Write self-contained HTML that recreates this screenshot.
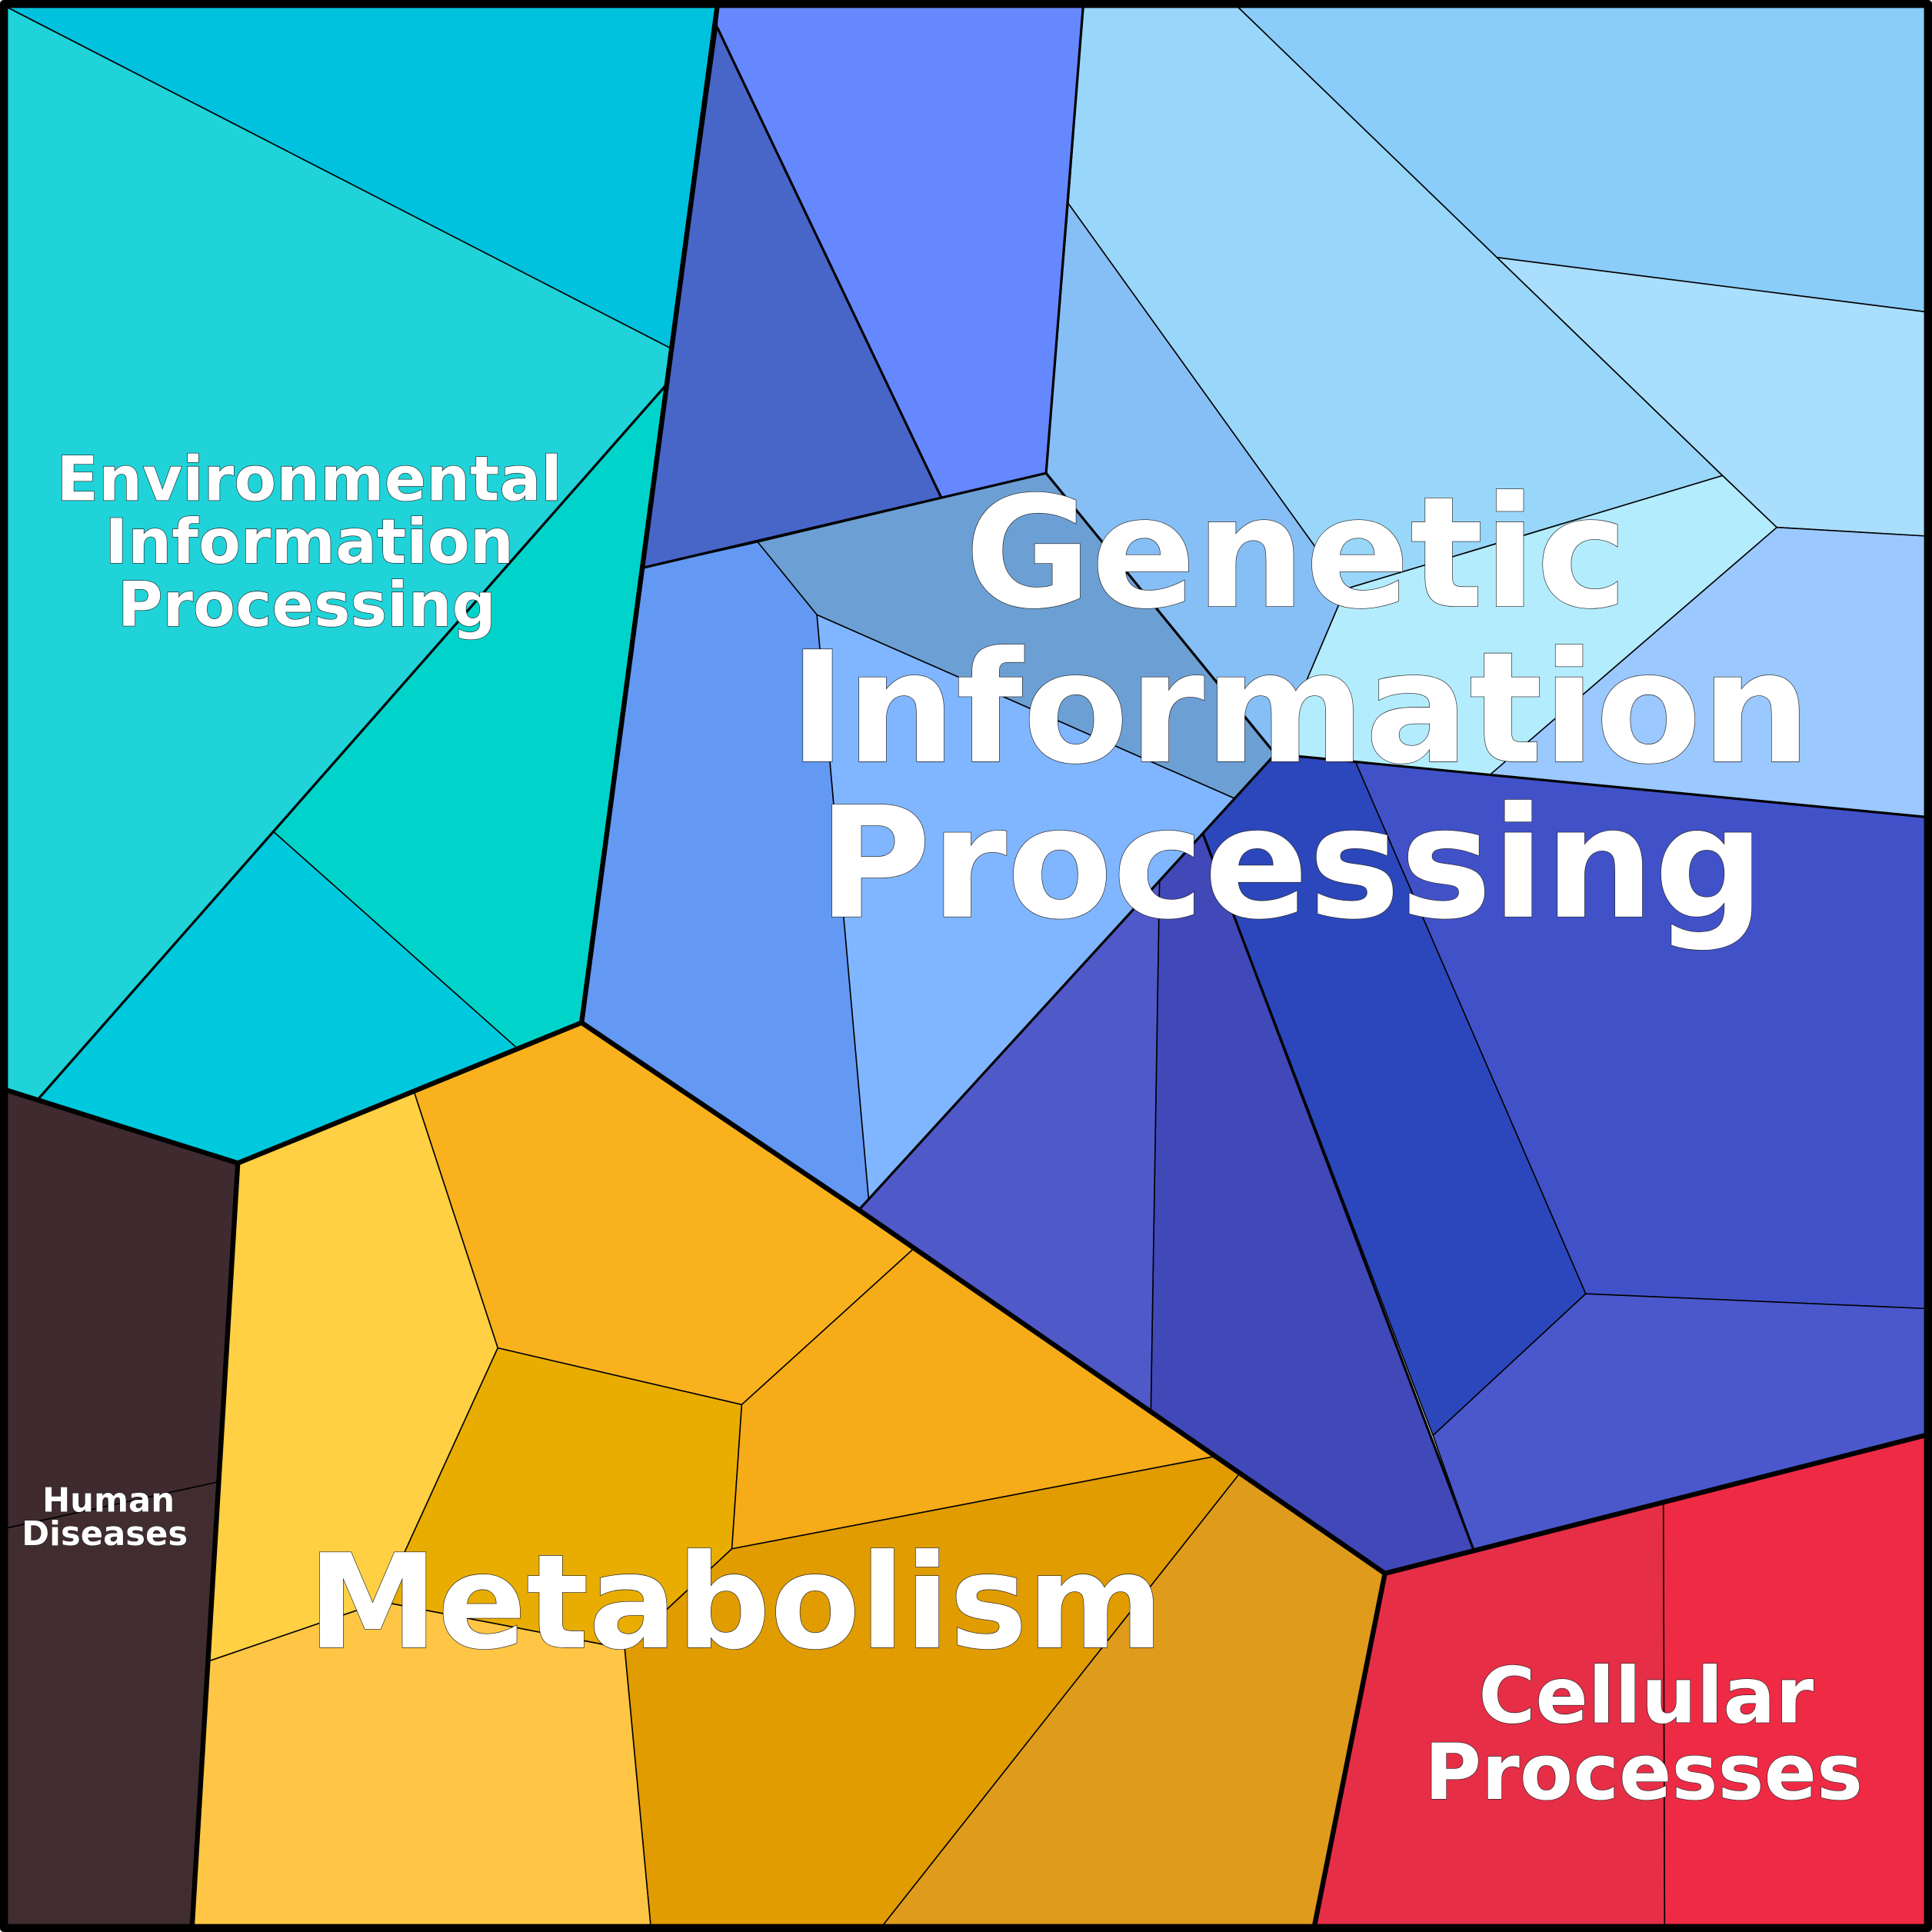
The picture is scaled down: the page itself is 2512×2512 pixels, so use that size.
<!DOCTYPE html>
<html><head><meta charset="utf-8"><style>
html,body{margin:0;padding:0;background:#fff}
svg{display:block}
text{font-family:"DejaVu Sans","Liberation Sans",sans-serif;font-weight:bold;fill:#fff;stroke:#222;stroke-width:0.8;paint-order:stroke;text-anchor:middle}
</style></head><body>
<svg width="2512" height="2512" viewBox="0 0 1568 1568" xmlns="http://www.w3.org/2000/svg">
<g stroke="#000" stroke-width="1" stroke-linejoin="round">
<!-- Environmental -->
<polygon fill="#00c1de" points="6,6 582,6 545,283"/>
<polygon fill="#1fd3d9" points="6,6 545,283 541,312 222,675 31,892 6,885"/>
<polygon fill="#00d4ca" points="541,312 472,830 420,851 222,675"/>
<polygon fill="#00c8dd" points="222,675 420,851 193,944 31,892"/>
<!-- Genetic -->
<polygon fill="#6688ff" points="582,6 879,6 849,384 764,404 582,22"/>
<polygon fill="#4866c8" points="582,22 764,404 521,461"/>
<polygon fill="#6ca0d4" points="615,440 849,384 1035,612 1002,648 663,499"/>
<polygon fill="#6399f2" points="521,461 615,440 663,499 705,973 697,982 472,830"/>
<polygon fill="#80b6ff" points="663,499 1002,648 705,973"/>
<polygon fill="#86bff5" points="867,165 1092,478 1035,612 849,384"/>
<polygon fill="#98d7fa" points="879,6 1005,6 1398,386 1092,478 867,165"/>
<polygon fill="#8accfa" points="1005,6 1562,6 1562,253 1215,209"/>
<polygon fill="#aadefd" points="1215,209 1562,253 1562,435 1442,428 1398,386"/>
<polygon fill="#9bc8ff" points="1442,428 1562,435 1562,663 1209,629"/>
<polygon fill="#b3ecfd" points="1092,478 1398,386 1442,428 1209,629 1100,618 1035,612"/>
<polygon fill="#2c47bb" points="1035,612 1100,618 1287,1050 1163,1165 976,676"/>
<polygon fill="#4152c9" points="1100,618 1562,663 1562,1062 1287,1050"/>
<polygon fill="#4a58cc" points="1287,1050 1562,1062 1562,1165 1196,1258 1163,1165"/>
<polygon fill="#4148b8" points="941,715 976,676 1196,1258 1124,1277 934,1146"/>
<polygon fill="#5059c8" points="697,982 941,715 934,1146"/>
<!-- Metabolism -->
<polygon fill="#f9b21d" points="336,886 472,830 742,1013 602,1140 404,1094"/>
<polygon fill="#ffd043" points="193,944 336,886 404,1094 310,1300 170,1348"/>
<polygon fill="#e8ad00" points="404,1094 602,1140 594,1257 507,1338 310,1300"/>
<polygon fill="#f6ab18" points="602,1140 742,1013 986,1182 594,1257"/>
<polygon fill="#e09c00" points="594,1257 986,1182 1006,1196 717,1562 528,1562 507,1338"/>
<polygon fill="#df9c1c" points="1006,1196 1124,1277 1067,1562 717,1562"/>
<polygon fill="#ffc645" points="170,1348 310,1300 507,1338 528,1562 156,1562"/>
<!-- Human -->
<polygon fill="#3e2a2f" points="6,885 193,944 176,1203 6,1240"/>
<polygon fill="#412d30" points="6,1240 176,1203 156,1562 6,1562"/>
<!-- Cellular -->
<polygon fill="#e62e47" points="1124,1277 1350,1219 1351,1562 1067,1562"/>
<polygon fill="#ef2a45" points="1350,1219 1562,1165 1562,1562 1351,1562"/>
</g>
<g stroke="#000" stroke-width="2" fill="none" stroke-linejoin="round">
<polyline points="541,312 31,892"/>
<polyline points="521,461 849,384 879,6"/>
<polyline points="849,384 1035,612 697,982"/>
<polyline points="1035,612 1562,663"/>
<polyline points="976,676 1196,1258"/>
<polyline points="582,22 764,404"/>
</g>
<g stroke="#000" stroke-width="4" fill="none" stroke-linejoin="round">
<polyline points="582,6 472,830 697,982 1124,1277 1562,1165"/>
<polyline points="6,885 193,944 472,830"/>
<polyline points="193,944 156,1562"/>
<polyline points="1124,1277 1067,1562"/>
<rect x="3" y="3" width="1562" height="1562" stroke-width="6"/>
</g>
<text x="1052" y="492" font-size="125">Genetic</text>
<text x="1055" y="618" font-size="125">Information</text>
<text x="1048" y="744" font-size="125">Processing</text>
<text x="597" y="1337" font-size="106">Metabolism</text>
<text x="251" y="406" font-size="50">Environmental</text>
<text x="251" y="457" font-size="50">Information</text>
<text x="249" y="508" font-size="50">Processing</text>
<text x="1336" y="1398" font-size="63">Cellular</text>
<text x="1334" y="1460" font-size="63">Processes</text>
<text x="88" y="1227" font-size="27">Human</text>
<text x="85" y="1254" font-size="27">Diseases</text>
</svg>
</body></html>
